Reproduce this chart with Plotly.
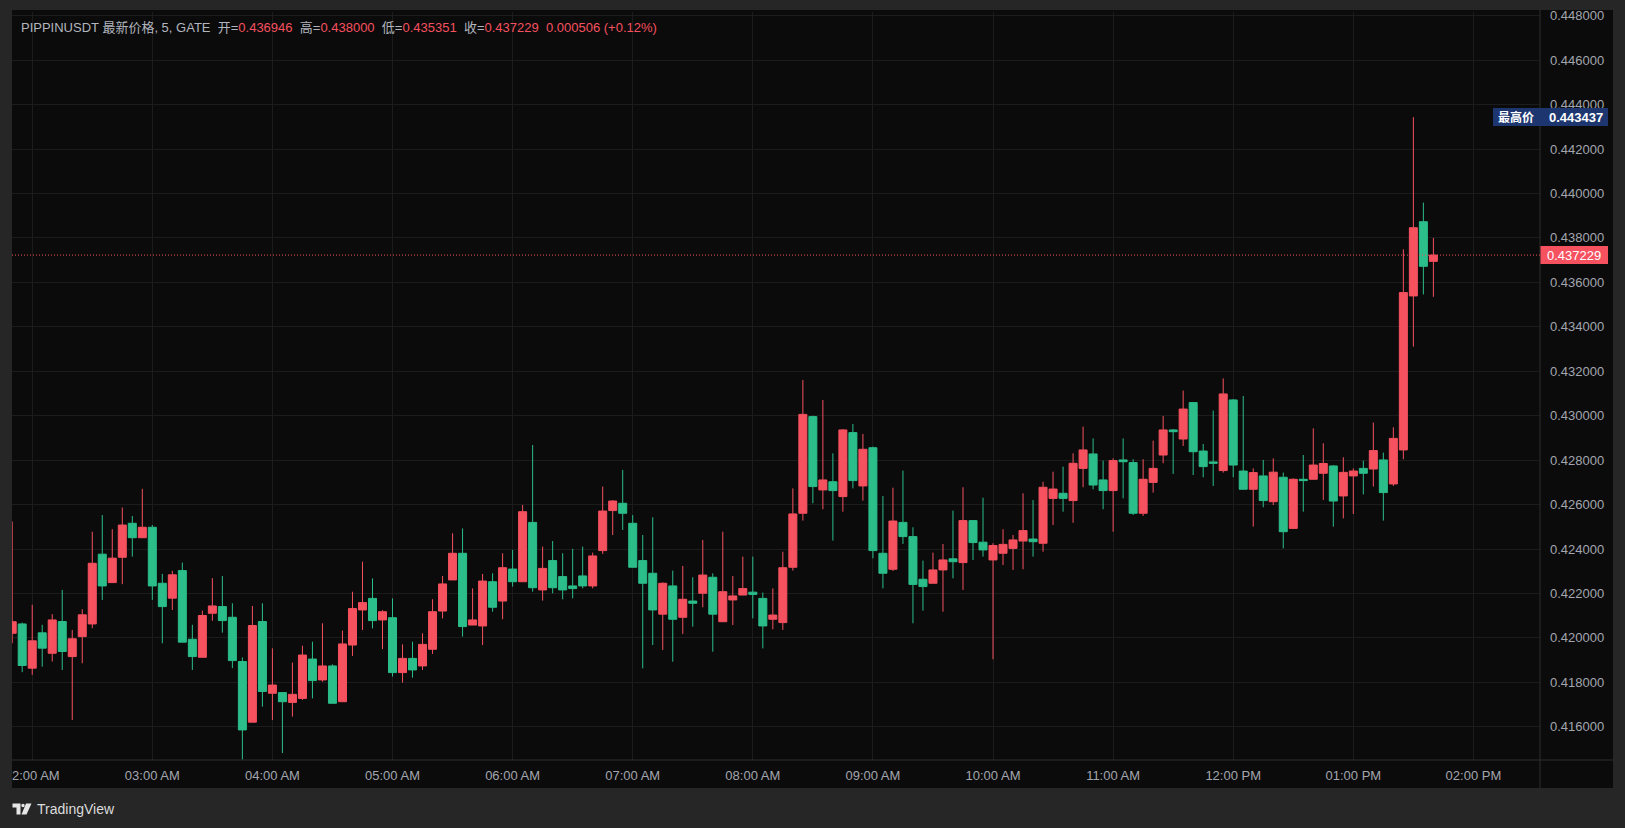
import pandas as pd
import plotly.graph_objects as go

# ---------------- data ----------------
times = pd.date_range("2024-01-01 01:50", "2024-01-01 13:40", freq="5min")

opens = [0.42021, 0.42063, 0.41864, 0.42023, 0.41931, 0.42074, 0.41916, 0.42006, 0.42063, 0.42377,
         0.42249, 0.42363, 0.42516, 0.42451, 0.42498, 0.42246, 0.42179, 0.42303, 0.41994, 0.41913,
         0.42111, 0.42141, 0.42093, 0.41894, 0.41621, 0.42074, 0.41751, 0.41754, 0.41710, 0.41728,
         0.41905, 0.41811, 0.41874, 0.41713, 0.41968, 0.42126, 0.42178, 0.42081, 0.42091, 0.41844,
         0.41908, 0.41874, 0.41949, 0.42121, 0.42261, 0.42381, 0.42058, 0.42054, 0.42253, 0.42166,
         0.42310, 0.42253, 0.42520, 0.42216, 0.42348, 0.42276, 0.42234, 0.42279, 0.42234, 0.42393,
         0.42573, 0.42606, 0.42516, 0.42348, 0.42291, 0.42107, 0.42234, 0.42093, 0.42166, 0.42201,
         0.42273, 0.42073, 0.42171, 0.42193, 0.42206, 0.42178, 0.42084, 0.42069, 0.42318, 0.42561,
         0.42996, 0.42666, 0.42703, 0.42636, 0.42924, 0.42684, 0.42856, 0.42381, 0.42309, 0.42520,
         0.42456, 0.42264, 0.42246, 0.42306, 0.42356, 0.42339, 0.42528, 0.42431, 0.42351, 0.42381,
         0.42403, 0.42436, 0.42445, 0.42426, 0.42628, 0.42651, 0.42618, 0.42763, 0.42828, 0.42711,
         0.42663, 0.42801, 0.42789, 0.42561, 0.42700, 0.42823, 0.42936, 0.42895, 0.43059, 0.42841,
         0.42792, 0.42753, 0.43071, 0.42751, 0.42669, 0.42729, 0.42613, 0.42723, 0.42493, 0.42714,
         0.42714, 0.42741, 0.42774, 0.42639, 0.42729, 0.42763, 0.42760, 0.42801, 0.42693, 0.42846,
         0.43539, 0.43873, 0.436946]

highs = [0.42524, 0.42069, 0.42149, 0.42059, 0.42107, 0.42216, 0.42036, 0.42129, 0.42478, 0.42553,
         0.42489, 0.42587, 0.42549, 0.42671, 0.42508, 0.42288, 0.42302, 0.42339, 0.42059, 0.42123,
         0.42269, 0.42279, 0.42156, 0.41912, 0.42144, 0.42156, 0.41953, 0.41754, 0.41889, 0.41965,
         0.41983, 0.42066, 0.41881, 0.42033, 0.42208, 0.42343, 0.42268, 0.42125, 0.42178, 0.41971,
         0.41983, 0.42021, 0.42174, 0.42279, 0.42471, 0.42493, 0.42223, 0.42288, 0.42291, 0.42381,
         0.42396, 0.42598, 0.42868, 0.42411, 0.42436, 0.42381, 0.42401, 0.42411, 0.42384, 0.42681,
         0.42620, 0.42756, 0.42553, 0.42463, 0.42543, 0.42250, 0.42303, 0.42324, 0.42273, 0.42441,
         0.42291, 0.42478, 0.42279, 0.42366, 0.42366, 0.42204, 0.42223, 0.42388, 0.42673, 0.43161,
         0.43000, 0.43071, 0.42831, 0.42940, 0.42963, 0.42918, 0.42861, 0.42639, 0.42676, 0.42753,
         0.42498, 0.42348, 0.42384, 0.42423, 0.42573, 0.42678, 0.42530, 0.42631, 0.42426, 0.42489,
         0.42463, 0.42651, 0.42621, 0.42703, 0.42748, 0.42771, 0.42831, 0.42951, 0.42898, 0.42798,
         0.42808, 0.42898, 0.42804, 0.42804, 0.42888, 0.42999, 0.42940, 0.43113, 0.43062, 0.42873,
         0.43023, 0.43168, 0.43075, 0.43089, 0.42763, 0.42801, 0.42808, 0.42744, 0.42718, 0.42823,
         0.42943, 0.42876, 0.42778, 0.42813, 0.42763, 0.42798, 0.42969, 0.42834, 0.42948, 0.43749,
         0.443437, 0.43959, 0.438000]

lows = [0.41976, 0.41846, 0.41834, 0.41871, 0.41894, 0.41856, 0.41631, 0.41886, 0.42044, 0.42171,
        0.42249, 0.42242, 0.42366, 0.42451, 0.42171, 0.41976, 0.42126, 0.41981, 0.41856, 0.41913,
        0.42077, 0.42024, 0.41864, 0.41452, 0.41621, 0.41691, 0.41631, 0.41482, 0.41646, 0.41721,
        0.41728, 0.41803, 0.41706, 0.41713, 0.41919, 0.42036, 0.42043, 0.41950, 0.41826, 0.41799,
        0.41821, 0.41856, 0.41928, 0.42088, 0.42261, 0.42006, 0.42058, 0.41968, 0.42118, 0.42084,
        0.42231, 0.42253, 0.42208, 0.42168, 0.42201, 0.42174, 0.42178, 0.42223, 0.42223, 0.42378,
        0.42463, 0.42486, 0.42318, 0.41863, 0.41968, 0.41946, 0.41893, 0.42018, 0.42051, 0.42138,
        0.41938, 0.42073, 0.42058, 0.42193, 0.42088, 0.41953, 0.42039, 0.42036, 0.42303, 0.42528,
        0.42606, 0.42579, 0.42438, 0.42568, 0.42673, 0.42618, 0.42358, 0.42223, 0.42301, 0.42423,
        0.42066, 0.42123, 0.42246, 0.42118, 0.42268, 0.42216, 0.42351, 0.42366, 0.41904, 0.42328,
        0.42306, 0.42309, 0.42366, 0.42388, 0.42508, 0.42568, 0.42518, 0.42678, 0.42669, 0.42579,
        0.42478, 0.42628, 0.42553, 0.42549, 0.42654, 0.42786, 0.42738, 0.42864, 0.42733, 0.42723,
        0.42684, 0.42744, 0.42723, 0.42669, 0.42501, 0.42588, 0.42598, 0.42403, 0.42490, 0.42568,
        0.42714, 0.42621, 0.42501, 0.42538, 0.42558, 0.42646, 0.42681, 0.42528, 0.42684, 0.42804,
        0.43311, 0.43546, 0.435351]

closes = [0.42073, 0.41876, 0.41987, 0.41954, 0.42081, 0.41939, 0.41996, 0.42104, 0.42336, 0.42234,
          0.42359, 0.42508, 0.42451, 0.42498, 0.42234, 0.42141, 0.42284, 0.41981, 0.41916, 0.42101,
          0.42144, 0.42078, 0.41898, 0.41586, 0.42056, 0.41759, 0.41788, 0.41713, 0.41746, 0.41923,
          0.41808, 0.41874, 0.41706, 0.41973, 0.42132, 0.42159, 0.42078, 0.42118, 0.41844, 0.41908,
          0.41856, 0.41971, 0.42118, 0.42243, 0.42381, 0.42051, 0.42081, 0.42256, 0.42138, 0.42316,
          0.42253, 0.42568, 0.42226, 0.42313, 0.42226, 0.42216, 0.42222, 0.42234, 0.42369, 0.42571,
          0.42616, 0.42561, 0.42318, 0.42246, 0.42126, 0.42246, 0.42084, 0.42174, 0.42156, 0.42283,
          0.42107, 0.42208, 0.42189, 0.42222, 0.42196, 0.42054, 0.42103, 0.42316, 0.42558, 0.43006,
          0.42681, 0.42711, 0.42663, 0.42936, 0.42708, 0.42849, 0.42393, 0.42291, 0.42526, 0.42456,
          0.42241, 0.42231, 0.42306, 0.42351, 0.42343, 0.42528, 0.42429, 0.42396, 0.42416, 0.42421,
          0.42441, 0.42483, 0.42433, 0.42678, 0.42670, 0.42628, 0.42786, 0.42846, 0.42688, 0.42663,
          0.42798, 0.42793, 0.42561, 0.42714, 0.42763, 0.42936, 0.42928, 0.43030, 0.42838, 0.42771,
          0.42786, 0.43098, 0.42778, 0.42669, 0.42744, 0.42618, 0.42746, 0.42478, 0.42714, 0.42708,
          0.42778, 0.42785, 0.42616, 0.42745, 0.42751, 0.42741, 0.42843, 0.42654, 0.42898, 0.43554,
          0.43846, 0.436723, 0.437229]

hour_ticks = pd.date_range("2024-01-01 02:00", "2024-01-01 14:00", freq="1h")
hour_labels = ["02:00 AM", "03:00 AM", "04:00 AM", "05:00 AM", "06:00 AM", "07:00 AM", "08:00 AM",
               "09:00 AM", "10:00 AM", "11:00 AM", "12:00 PM", "01:00 PM", "02:00 PM"]

symbol = "PIPPINUSDT"
title_label = "最新价格, 5, GATE"
high_label = "最高价"
session_high = 0.443437

# ---------------- style / layout ----------------
W, H = 1625, 828
ML, MR, MT, MB = 12, 85, 12, 68
PW, PH = W - ML - MR, H - MT - MB

RED = "#f5515f"
GREEN = "#2bbd8a"
BG = "#0b0b0b"
FRAME = "#262626"
GRID = "#1c1c1c"
SEP = "#2e2e2e"
AXIS_TXT = "#a3a6af"
HDR_TXT = "#b2b5be"
FONT = "Liberation Sans, Arial, Noto Sans CJK SC, sans-serif"


def px2x(px):
    return (px - ML) / PW


def px2y(py):
    return (MT + PH - py) / PH


fig = go.Figure(go.Candlestick(
    x=times, open=opens, high=highs, low=lows, close=closes,
    increasing=dict(line=dict(color=RED, width=1), fillcolor=RED),
    decreasing=dict(line=dict(color=GREEN, width=1), fillcolor=GREEN),
    whiskerwidth=0, hoverinfo="skip", showlegend=False,
))

last_o, last_h, last_l, last_c = opens[-1], highs[-1], lows[-1], closes[-1]
chg = last_c - closes[-2]
pct = chg / closes[-2] * 100

sp = "&nbsp;&nbsp;"
header = (
    f'<span style="color:{HDR_TXT}">{symbol} {title_label}{sp}开=</span>'
    f'<span style="color:{RED}">{last_o:.6f}</span>'
    f'<span style="color:{HDR_TXT}">{sp}高=</span><span style="color:{RED}">{last_h:.6f}</span>'
    f'<span style="color:{HDR_TXT}">{sp}低=</span><span style="color:{RED}">{last_l:.6f}</span>'
    f'<span style="color:{HDR_TXT}">{sp}收=</span><span style="color:{RED}">{last_c:.6f}</span>'
    f'<span style="color:{RED}">{sp}{chg:.6f} ({pct:+.2f}%)</span>'
)

shapes = [
    # black chart panel
    dict(type="rect", xref="paper", yref="paper", x0=px2x(12), x1=px2x(1613), y0=px2y(788), y1=px2y(10),
         fillcolor=BG, line=dict(width=0), layer="below"),
    # separators
    dict(type="line", xref="paper", yref="paper", x0=1, x1=1, y0=px2y(788), y1=px2y(10),
         line=dict(color=SEP, width=1), layer="above"),
    dict(type="line", xref="paper", yref="paper", x0=0, x1=px2x(1613), y0=0, y1=0,
         line=dict(color=SEP, width=1), layer="above"),
    # clip left of time axis labels
    dict(type="rect", xref="paper", yref="paper", x0=px2x(0), x1=px2x(12), y0=px2y(800), y1=px2y(755),
         fillcolor=FRAME, line=dict(width=0), layer="above"),
    # last price dotted line
    dict(type="line", xref="paper", yref="y", x0=0, x1=1, y0=last_c, y1=last_c,
         line=dict(color=RED, width=1, dash="1px,2px"), layer="above"),
    # last price box
    dict(type="rect", xref="paper", yref="y", ysizemode="pixel", yanchor=last_c, y0=-9, y1=9,
         x0=px2x(1540.5), x1=px2x(1608), fillcolor=RED, line=dict(width=0), layer="above"),
    # high box
    dict(type="rect", xref="paper", yref="y", ysizemode="pixel", yanchor=session_high, y0=-9, y1=9,
         x0=px2x(1493), x1=px2x(1608), fillcolor="#1d3670", line=dict(width=0), layer="above"),
    # TradingView logo
    dict(type="path", xref="paper", yref="paper",
         path=" ".join([
             f"M {px2x(12.5)},{px2y(803.5)}", f"L {px2x(20.5)},{px2y(803.5)}", f"L {px2x(20.5)},{px2y(814.5)}",
             f"L {px2x(16.5)},{px2y(814.5)}", f"L {px2x(16.5)},{px2y(807.5)}", f"L {px2x(12.5)},{px2y(807.5)} Z"]),
         fillcolor="#e6e6e6", line=dict(width=0), layer="above"),
    dict(type="circle", xref="paper", yref="paper", x0=px2x(21.3), x1=px2x(24.7), y0=px2y(807.2), y1=px2y(803.8),
         fillcolor="#e6e6e6", line=dict(width=0), layer="above"),
    dict(type="path", xref="paper", yref="paper",
         path=" ".join([
             f"M {px2x(26)},{px2y(803.5)}", f"L {px2x(31.5)},{px2y(803.5)}", f"L {px2x(26.5)},{px2y(814.5)}",
             f"L {px2x(21.5)},{px2y(814.5)} Z"]),
         fillcolor="#e6e6e6", line=dict(width=0), layer="above"),
]

annotations = [
    dict(xref="paper", yref="paper", x=px2x(19), y=px2y(28), xanchor="left", yanchor="middle",
         text=header, showarrow=False, font=dict(family=FONT, size=13, color=HDR_TXT)),
    dict(xref="paper", yref="y", x=px2x(1574), y=last_c, xanchor="center", yanchor="middle",
         text=f"{last_c:.6f}", showarrow=False, font=dict(family=FONT, size=13, color="#ffffff")),
    dict(xref="paper", yref="y", x=px2x(1516), y=session_high, xanchor="center", yanchor="middle",
         text=f"<b>{high_label}</b>", showarrow=False, font=dict(family=FONT, size=12, color="#ffffff")),
    dict(xref="paper", yref="y", x=px2x(1576), y=session_high, xanchor="center", yanchor="middle",
         text=f"<b>{session_high:.6f}</b>", showarrow=False, font=dict(family=FONT, size=13, color="#ffffff")),
    dict(xref="paper", yref="paper", x=px2x(35), y=px2y(808.5), xanchor="left", yanchor="middle",
         text="TradingView", showarrow=False, font=dict(family=FONT, size=14, color="#dcdcdc")),
]

fig.update_layout(
    width=W, height=H,
    margin=dict(l=ML, r=MR, t=MT, b=MB, pad=0, autoexpand=False),
    paper_bgcolor=FRAME, plot_bgcolor=BG,
    showlegend=False, hovermode=False,
    boxgap=0.2, boxgroupgap=0,
    shapes=shapes, annotations=annotations,
    xaxis=dict(
        type="date", range=["2024-01-01 01:49:54", "2024-01-01 14:33:16"],
        rangeslider=dict(visible=False),
        tickmode="array", tickvals=hour_ticks, ticktext=hour_labels,
        showgrid=True, gridcolor=GRID, gridwidth=1, zeroline=False, showline=False,
        ticks="", ticklabelstandoff=6,
        tickfont=dict(family=FONT, size=13, color=AXIS_TXT),
        fixedrange=True,
    ),
    yaxis=dict(
        side="right", range=[0.414507, 0.448167],
        tick0=0, dtick=0.002, tickformat=".6f",
        showgrid=True, gridcolor=GRID, gridwidth=1, zeroline=False, showline=False,
        ticks="", ticklabelstandoff=9,
        tickfont=dict(family=FONT, size=13, color=AXIS_TXT),
        fixedrange=True,
    ),
)

fig.write_html(
    "out.html",
    config={"displayModeBar": False, "staticPlot": True},
    post_script="document.body.style.margin='0';document.body.style.overflow='hidden';",
)
